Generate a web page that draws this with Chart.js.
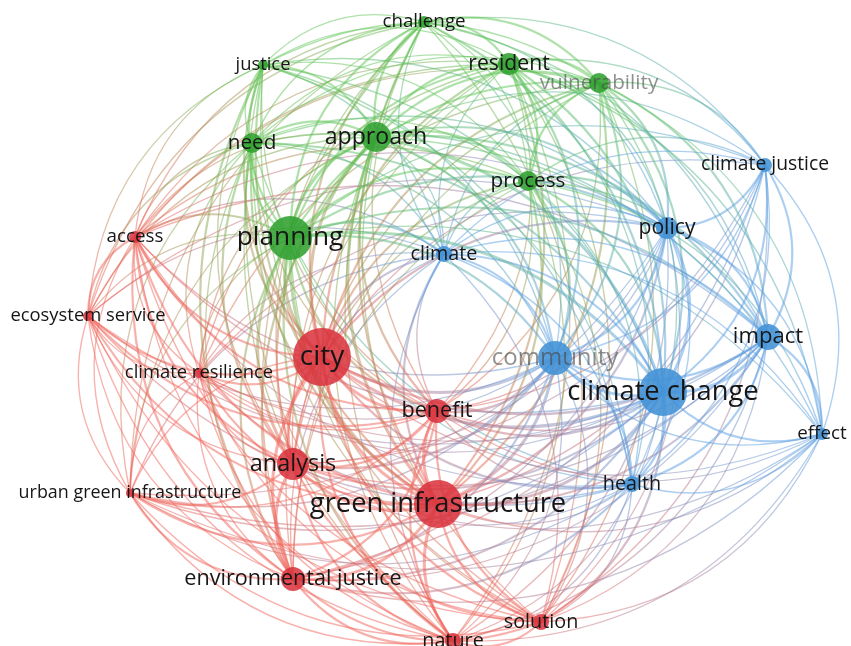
<!DOCTYPE html>
<html>
<head>
<meta charset="utf-8">
<script src="https://cdn.jsdelivr.net/npm/chart.js@4"></script>
<style>
  html, body { margin: 0; padding: 0; background: #fff; }
  #wrap { width: 851px; height: 646px; position: relative; }
</style>
</head>
<body>
<div id="wrap"><canvas id="mapChart"></canvas></div>
<script>
// Terms of the co-occurrence map
const terms = [
  "challenge", "justice", "resident", "vulnerability", "need", "approach", "process", "planning",
  "climate justice", "policy", "climate", "community", "climate change", "impact", "effect", "health",
  "access", "ecosystem service", "city", "climate resilience", "benefit", "analysis",
  "urban green infrastructure", "green infrastructure", "environmental justice", "solution", "nature"
];
// map coordinates (VOSviewer layout units)
const mapX = [-0.01, -1.62, 0.84, 1.74, -1.73, -0.49, 1.03, -1.35,
  3.40, 2.42, 0.19, 1.30, 2.38, 3.43, 3.97, 2.07,
  -2.90, -3.37, -1.03, -2.26, 0.12, -1.32, -2.95, 0.13, -1.32, 1.16, 0.28];
const mapY = [3.01, 2.58, 2.59, 2.40, 1.80, 1.86, 1.42, 0.85,
  1.58, 0.95, 0.69, -0.35, -0.69, -0.14, -1.11, -1.61,
  0.86, 0.07, -0.34, -0.50, -0.88, -1.41, -1.70, -1.81, -2.56, -2.99, -3.18];
const occurrences = [4.3, 3.0, 14.4, 11.9, 11.9, 26.8, 11.9, 57.5,
  5.8, 14.4, 7.6, 34.4, 68.5, 20.1, 4.3, 7.6,
  4.3, 3.0, 100, 3.0, 17.1, 30.4, 1.9, 68.5, 17.1, 7.6, 7.6];
// 1 = green, 2 = blue, 3 = red
const clusters = [1, 1, 1, 1, 1, 1, 1, 1,
  2, 2, 2, 2, 2, 2, 2, 2,
  3, 3, 3, 3, 3, 3, 3, 3, 3, 3, 3];
// link strength (0-3) from each term to every later term
const linkRows = [
  "12212121111210011201112111",
  "1112120111100111201102211",
  "212221112211111211102111",
  "12221212221110211102110",
  "2120111210111211212111",
  "231212321111312213211",
  "21212211110201102111",
  "1222321121312313212",
  "211221100101101110",
  "12321111211112111",
  "2211111211112111",
  "321211312213211",
  "32211312213221",
  "2210211112111",
  "100101111111",
  "11211111211",
  "2212212211",
  "212112111",
  "23313322",
  "1112111",
  "213222",
  "23322",
  "2211",
  "323",
  "22",
  "2"
];

const nodeColors = { 1: "rgba(48,160,48,0.88)", 2: "rgba(66,146,214,0.88)", 3: "rgba(218,50,60,0.86)" };
const lineColors = { 1: "rgba(95,196,85,0.5)", 2: "rgba(90,158,226,0.5)", 3: "rgba(240,100,90,0.5)" };
const fadedTerms = ["community", "vulnerability"];

function radiusOf(i) { return 2.9 * Math.sqrt(occurrences[i]); }

// Builds the list of links from the rows above
const links = [];
linkRows.forEach((row, i) => {
  for (let k = 0; k < row.length; k++) {
    const s = Number(row[k]);
    if (s > 0) links.push([i, i + 1 + k, s]);
  }
});
links.sort((a, b) => a[2] - b[2]);

// Draws curved links under the bubbles and the labels over them
const networkPlugin = {
  id: "network",
  beforeDatasetsDraw(chart) {
    const ctx = chart.ctx, xs = chart.scales.x, ys = chart.scales.y;
    const cx = xs.getPixelForValue(0.3), cy = ys.getPixelForValue(0);
    ctx.save();
    ctx.lineCap = "round";
    links.forEach(([i, j, s]) => {
      const x1 = xs.getPixelForValue(mapX[i]), y1 = ys.getPixelForValue(mapY[i]);
      const x2 = xs.getPixelForValue(mapX[j]), y2 = ys.getPixelForValue(mapY[j]);
      const mx = (x1 + x2) / 2, my = (y1 + y2) / 2;
      const dx = x2 - x1, dy = y2 - y1, len = Math.hypot(dx, dy);
      let nx = -dy / len, ny = dx / len;
      if (nx * (mx - cx) + ny * (my - cy) < 0) { nx = -nx; ny = -ny; }
      const bend = 0.3 * len;
      const g = ctx.createLinearGradient(x1, y1, x2, y2);
      g.addColorStop(0, lineColors[clusters[i]]);
      g.addColorStop(1, lineColors[clusters[j]]);
      ctx.strokeStyle = g;
      ctx.lineWidth = 0.5 + s * 0.85;
      ctx.beginPath();
      ctx.moveTo(x1, y1);
      ctx.quadraticCurveTo(mx + nx * bend, my + ny * bend, x2, y2);
      ctx.stroke();
    });
    ctx.restore();
  },
  afterDatasetsDraw(chart) {
    const ctx = chart.ctx, xs = chart.scales.x, ys = chart.scales.y;
    ctx.save();
    ctx.textAlign = "center";
    ctx.textBaseline = "middle";
    terms.forEach((t, i) => {
      const fs = Math.min(28, 16 + 0.47 * radiusOf(i));
      ctx.font = fs.toFixed(1) + 'px "Open Sans"';
      ctx.fillStyle = fadedTerms.includes(t) ? "rgba(70,70,70,0.6)" : "#161616";
      ctx.fillText(t, xs.getPixelForValue(mapX[i]), ys.getPixelForValue(mapY[i]));
    });
    ctx.restore();
  }
};

const mapChart = new Chart(document.getElementById("mapChart"), {
  type: "bubble",
  data: {
    datasets: [{
      data: terms.map((t, i) => ({ x: mapX[i], y: mapY[i], r: radiusOf(i) })),
      backgroundColor: terms.map((t, i) => nodeColors[clusters[i]]),
      borderWidth: 0,
      clip: false
    }]
  },
  options: {
    responsive: true,
    maintainAspectRatio: false,
    animation: false,
    events: [],
    layout: { padding: 0, autoPadding: false },
    plugins: { legend: { display: false }, tooltip: { enabled: false } },
    scales: {
      x: { type: "linear", min: -4.25, max: 4.26, display: false },
      y: { type: "linear", min: -3.23, max: 3.23, display: false }
    }
  },
  plugins: [networkPlugin]
});
</script>
</body>
</html>
